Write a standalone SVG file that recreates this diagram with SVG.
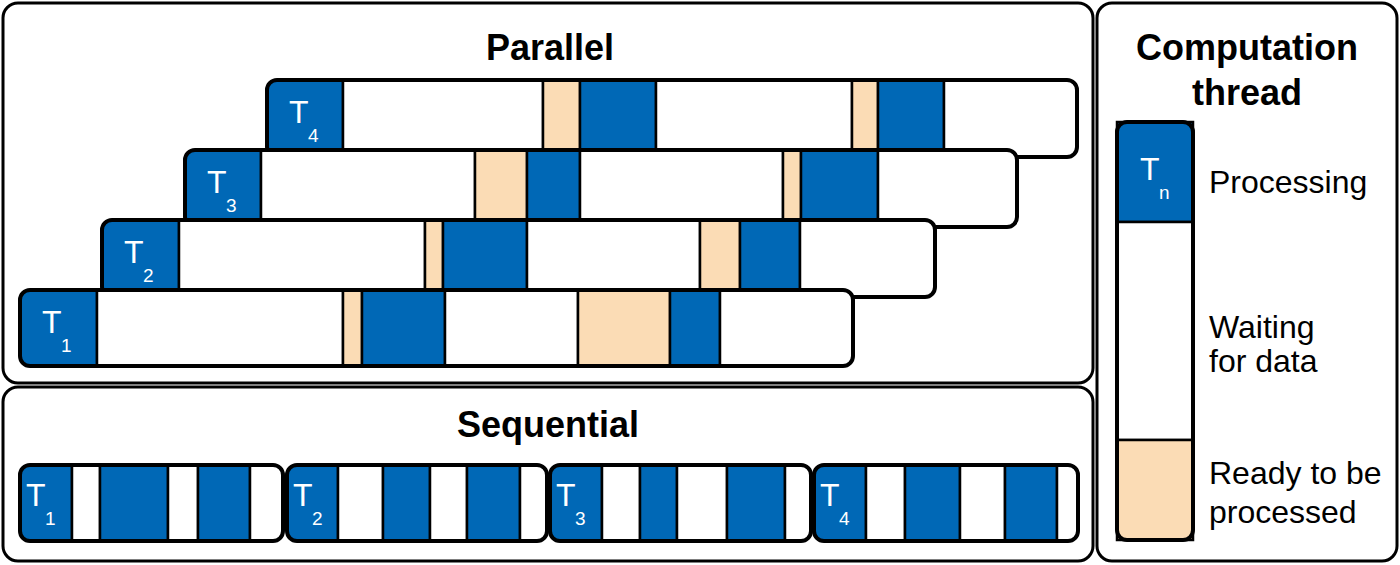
<svg xmlns="http://www.w3.org/2000/svg" width="1400" height="565" viewBox="0 0 1400 565">
<style>
.panel{fill:#fff;stroke:#000;stroke-width:3}
.b{fill:#0068b6;stroke:#000;stroke-width:2.5}
.w{fill:#fff;stroke:#000;stroke-width:2.5}
.t{fill:#fbdcb5;stroke:#000;stroke-width:2.5}
.o{fill:none;stroke:#000;stroke-width:4}
.title{font-family:"Liberation Sans",Arial,sans-serif;font-weight:bold;font-size:36px;text-anchor:middle}
.lg{font-family:"Liberation Sans",Arial,sans-serif;font-size:32px}
.T{font-family:"Liberation Sans",Arial,sans-serif;fill:#fff;font-size:32px}
.Ts{font-family:"Liberation Sans",Arial,sans-serif;fill:#fff;font-size:19px}
</style>
<defs>
<clipPath id="c4"><rect x="267" y="80" width="810" height="77" rx="10"/></clipPath>
<clipPath id="c3"><rect x="185" y="150" width="832" height="77" rx="10"/></clipPath>
<clipPath id="c2"><rect x="102" y="220" width="833" height="77" rx="10"/></clipPath>
<clipPath id="c1"><rect x="20" y="290" width="833" height="76" rx="10"/></clipPath>
<clipPath id="s1"><rect x="20" y="465" width="263" height="76" rx="10"/></clipPath>
<clipPath id="s2"><rect x="287" y="465" width="260" height="76" rx="10"/></clipPath>
<clipPath id="s3"><rect x="550" y="465" width="261" height="76" rx="10"/></clipPath>
<clipPath id="s4"><rect x="814" y="465" width="264" height="76" rx="10"/></clipPath>
</defs>
<rect class="panel" x="3" y="3" width="1090" height="380" rx="15"/>
<rect class="panel" x="3" y="387" width="1090" height="174" rx="15"/>
<rect class="panel" x="1097" y="3" width="300" height="558" rx="15"/>
<text class="title" x="550" y="60">Parallel</text>
<text class="title" x="548" y="437">Sequential</text>

<g id="p4" clip-path="url(#c4)">
<rect class="b" x="267" y="80" width="76" height="77"/><rect class="w" x="343" y="80" width="200" height="77"/><rect class="t" x="543" y="80" width="37" height="77"/><rect class="b" x="580" y="80" width="76" height="77"/><rect class="w" x="656" y="80" width="196" height="77"/><rect class="t" x="852" y="80" width="26" height="77"/><rect class="b" x="878" y="80" width="66" height="77"/><rect class="w" x="944" y="80" width="133" height="77"/>
</g>
<rect class="o" x="267" y="80" width="810" height="77" rx="10"/>
<text class="T" x="289" y="123">T</text><text class="Ts" x="308" y="142">4</text>

<g id="p3" clip-path="url(#c3)">
<rect class="b" x="185" y="150" width="76" height="77"/><rect class="w" x="261" y="150" width="214" height="77"/><rect class="t" x="475" y="150" width="52" height="77"/><rect class="b" x="527" y="150" width="53" height="77"/><rect class="w" x="580" y="150" width="203" height="77"/><rect class="t" x="783" y="150" width="18" height="77"/><rect class="b" x="801" y="150" width="77" height="77"/><rect class="w" x="878" y="150" width="139" height="77"/>
</g>
<rect class="o" x="185" y="150" width="832" height="77" rx="10"/>
<text class="T" x="207" y="193">T</text><text class="Ts" x="226" y="212">3</text>

<g id="p2" clip-path="url(#c2)">
<rect class="b" x="102" y="220" width="77" height="77"/><rect class="w" x="179" y="220" width="246" height="77"/><rect class="t" x="425" y="220" width="18" height="77"/><rect class="b" x="443" y="220" width="84" height="77"/><rect class="w" x="527" y="220" width="173" height="77"/><rect class="t" x="700" y="220" width="40" height="77"/><rect class="b" x="740" y="220" width="60" height="77"/><rect class="w" x="800" y="220" width="135" height="77"/>
</g>
<rect class="o" x="102" y="220" width="833" height="77" rx="10"/>
<text class="T" x="124" y="263">T</text><text class="Ts" x="143" y="282">2</text>

<g id="p1" clip-path="url(#c1)">
<rect class="b" x="20" y="290" width="77" height="76"/><rect class="w" x="97" y="290" width="246" height="76"/><rect class="t" x="343" y="290" width="19" height="76"/><rect class="b" x="362" y="290" width="83" height="76"/><rect class="w" x="445" y="290" width="133" height="76"/><rect class="t" x="578" y="290" width="92" height="76"/><rect class="b" x="670" y="290" width="50" height="76"/><rect class="w" x="720" y="290" width="133" height="76"/>
</g>
<rect class="o" x="20" y="290" width="833" height="76" rx="10"/>
<text class="T" x="42" y="333">T</text><text class="Ts" x="61" y="352">1</text>

<g id="s1g" clip-path="url(#s1)">
<rect class="b" x="20" y="465" width="52" height="76"/><rect class="w" x="72" y="465" width="28" height="76"/><rect class="b" x="100" y="465" width="68" height="76"/><rect class="w" x="168" y="465" width="30" height="76"/><rect class="b" x="198" y="465" width="52" height="76"/><rect class="w" x="250" y="465" width="33" height="76"/>
</g>
<rect class="o" x="20" y="465" width="263" height="76" rx="10"/>
<text class="T" x="26" y="506">T</text><text class="Ts" x="45" y="525">1</text>

<g id="s2g" clip-path="url(#s2)">
<rect class="b" x="287" y="465" width="51" height="76"/><rect class="w" x="338" y="465" width="45" height="76"/><rect class="b" x="383" y="465" width="47" height="76"/><rect class="w" x="430" y="465" width="37" height="76"/><rect class="b" x="467" y="465" width="53" height="76"/><rect class="w" x="520" y="465" width="27" height="76"/>
</g>
<rect class="o" x="287" y="465" width="260" height="76" rx="10"/>
<text class="T" x="293" y="506">T</text><text class="Ts" x="312" y="525">2</text>

<g id="s3g" clip-path="url(#s3)">
<rect class="b" x="550" y="465" width="52" height="76"/><rect class="w" x="602" y="465" width="38" height="76"/><rect class="b" x="640" y="465" width="37" height="76"/><rect class="w" x="677" y="465" width="50" height="76"/><rect class="b" x="727" y="465" width="58" height="76"/><rect class="w" x="785" y="465" width="26" height="76"/>
</g>
<rect class="o" x="550" y="465" width="261" height="76" rx="10"/>
<text class="T" x="556" y="506">T</text><text class="Ts" x="575" y="525">3</text>

<g id="s4g" clip-path="url(#s4)">
<rect class="b" x="814" y="465" width="52" height="76"/><rect class="w" x="866" y="465" width="39" height="76"/><rect class="b" x="905" y="465" width="55" height="76"/><rect class="w" x="960" y="465" width="45" height="76"/><rect class="b" x="1005" y="465" width="52" height="76"/><rect class="w" x="1057" y="465" width="21" height="76"/>
</g>
<rect class="o" x="814" y="465" width="264" height="76" rx="10"/>
<text class="T" x="820" y="506">T</text><text class="Ts" x="839" y="525">4</text>

<g id="legend">
<text class="title" x="1247" y="60">Computation</text>
<text class="title" x="1247" y="105">thread</text>
<g clip-path="url(#lc)">
<rect class="b" x="1117" y="122" width="76" height="100"/>
<rect class="w" x="1117" y="222" width="76" height="218"/>
<rect class="t" x="1117" y="440" width="76" height="100"/>
</g>
<rect class="o" x="1117" y="122" width="76" height="418" rx="10"/>
<text class="T" x="1140" y="180">T</text><text class="Ts" x="1159" y="199">n</text>
<text class="lg" x="1209" y="193">Processing</text>
<text class="lg" x="1209" y="338">Waiting</text>
<text class="lg" x="1209" y="372">for data</text>
<text class="lg" x="1209" y="484">Ready to be</text>
<text class="lg" x="1209" y="523">processed</text>
</g>
</svg>
